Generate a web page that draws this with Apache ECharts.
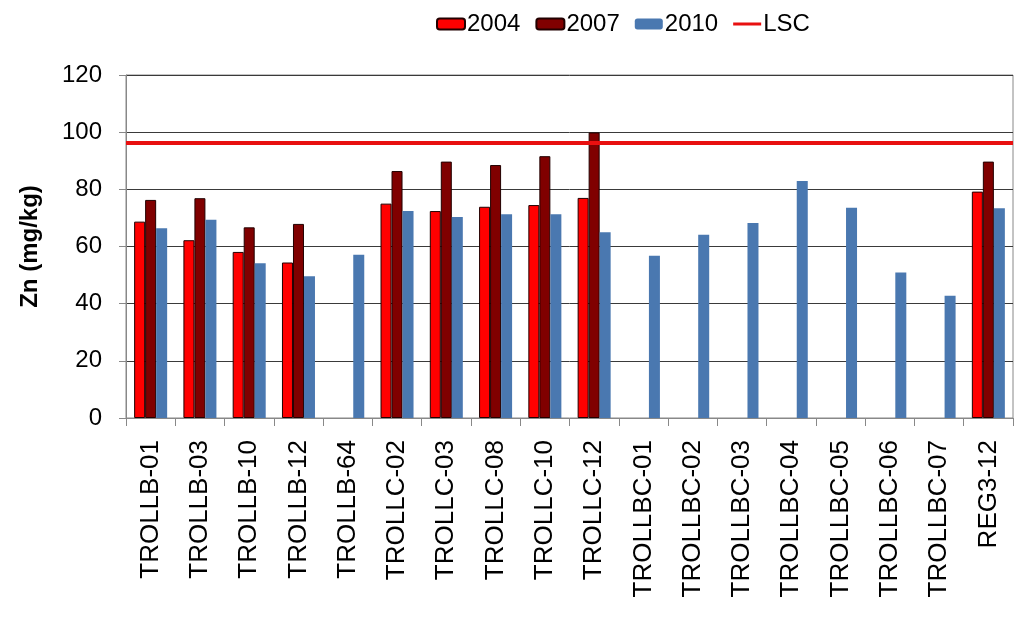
<!DOCTYPE html>
<html>
<head>
<meta charset="utf-8">
<script src="https://cdn.jsdelivr.net/npm/echarts@6/dist/echarts.min.js"></script>
<style>html,body{margin:0;padding:0;background:#fff}#c{width:1024px;height:633px}</style>
</head>
<body>
<div id="c"></div>
<script>
const categories = ['TROLLB-01','TROLLB-03','TROLLB-10','TROLLB-12','TROLLB-64','TROLLC-02','TROLLC-03','TROLLC-08','TROLLC-10','TROLLC-12','TROLLBC-01','TROLLBC-02','TROLLBC-03','TROLLBC-04','TROLLBC-05','TROLLBC-06','TROLLBC-07','REG3-12'];
const y2004 = [68.7, 62.2, 58.1, 54.4, null, 75.0, 72.4, 73.9, 74.5, 77.0, null, null, null, null, null, null, null, 79.2];
const y2007 = [76.3, 76.9, 66.7, 67.9, null, 86.4, 89.7, 88.5, 91.6, 99.9, null, null, null, null, null, null, null, 89.7];
const y2010 = [66.4, 69.4, 54.1, 49.6, 57.1, 72.4, 70.3, 71.3, 71.3, 65.0, 56.8, 64.1, 68.2, 82.9, 73.6, 50.9, 42.8, 73.4];
const lsc = 96.4;
const yTicks = [0, 20, 40, 60, 80, 100, 120];

const FONT = 'Liberation Sans, Arial, sans-serif';
const RED = '#FF0000', DARK = '#800000', BLUE = '#4A78B0', LSCRED = '#E81010';
const chart = echarts.init(document.getElementById('c'));
chart.setOption({
  animation: false,
  textStyle: { fontFamily: FONT },
  legend: {
    top: 7, left: 431,
    itemWidth: 28, itemHeight: 11, itemGap: 15,
    textStyle: { fontSize: 24, color: '#000', fontFamily: FONT, padding: [0, 0, 0, -3] },
    data: [
      { name: '2004' }, { name: '2007' }, { name: '2010' },
      { name: 'LSC', icon: 'path://M0,0 L0.001,0 L0,0.001 Z M0,4 L28,4 L28,7 L0,7 Z M0,11 L0.001,11 L0,10.999 Z',
        itemStyle: { color: LSCRED, borderWidth: 0 } }
    ]
  },
  grid: { left: 126, right: 11, top: 75, bottom: 215, show: true, borderColor: '#888', borderWidth: 1 },
  xAxis: {
    type: 'category', data: categories,
    axisLine: { lineStyle: { color: '#888', width: 1 } },
    axisTick: { show: true, alignWithLabel: false, length: 8, lineStyle: { color: '#888' } },
    axisLabel: { rotate: 90, fontSize: 26, color: '#000', margin: 22, interval: 0, fontFamily: FONT }
  },
  yAxis: {
    type: 'value', min: yTicks[0], max: yTicks[yTicks.length - 1], interval: 20,
    name: 'Zn (mg/kg)', nameLocation: 'middle', nameRotate: 90, nameGap: 84,
    nameTextStyle: { fontSize: 24, fontWeight: 'bold', color: '#000', fontFamily: FONT },
    axisLine: { show: true, lineStyle: { color: '#888' } },
    axisTick: { show: true, length: 7, lineStyle: { color: '#888' } },
    axisLabel: { fontSize: 24, color: '#000', margin: 24, fontFamily: FONT },
    splitLine: { lineStyle: { color: '#3a3a3a', width: 1 } }
  },
  series: [
    { name: '2004', type: 'bar', data: y2004, barGap: '0%', barCategoryGap: '33%',
      itemStyle: { color: RED, borderColor: '#200', borderWidth: 1 } },
    { name: '2007', type: 'bar', data: y2007,
      itemStyle: { color: DARK, borderColor: '#200', borderWidth: 1 } },
    { name: '2010', type: 'bar', data: y2010,
      itemStyle: { color: BLUE } },
    { name: 'LSC', type: 'line', data: [], symbol: 'none',
      lineStyle: { color: LSCRED, width: 4 }, itemStyle: { color: LSCRED },
      markLine: { silent: true, symbol: 'none', label: { show: false },
        lineStyle: { color: LSCRED, width: 4, type: 'solid' },
        data: [{ yAxis: lsc }] } }
  ]
});
</script>
</body>
</html>
